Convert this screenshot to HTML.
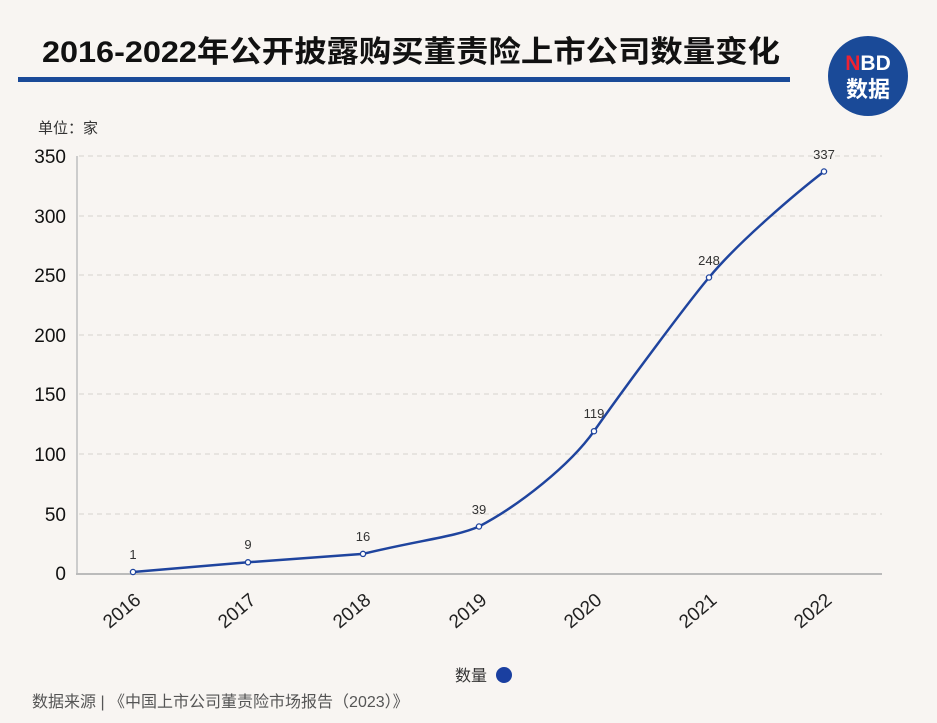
<!DOCTYPE html>
<html><head><meta charset="utf-8"><style>
body{margin:0;width:937px;height:723px;background:#f8f5f2;overflow:hidden;font-family:"Liberation Sans","Noto Sans CJK SC",sans-serif}
</style></head><body>
<svg width="937" height="723" xmlns="http://www.w3.org/2000/svg" style="position:absolute;left:0;top:0">
<text x="42" y="62" font-size="30" font-weight="bold" fill="#111" font-family="Liberation Sans,Noto Sans CJK SC,sans-serif" textLength="738" lengthAdjust="spacingAndGlyphs">2016-2022年公开披露购买董责险上市公司数量变化</text>
<rect x="18" y="77" width="772" height="5" fill="#1a4a98"/>
<circle cx="868" cy="76" r="40" fill="#1a4a98"/>
<text x="868" y="70" font-size="21" font-weight="bold" fill="#fff" text-anchor="middle"><tspan fill="#e23">N</tspan>BD</text>
<text x="868" y="97" font-size="22" font-weight="bold" fill="#fff" text-anchor="middle" font-family="Noto Sans CJK SC,sans-serif">数据</text>
<text x="38" y="133" font-size="15" fill="#333" font-family="Liberation Sans,Noto Sans CJK SC,sans-serif">单位：家</text>
<g stroke="#d6d3cf" stroke-dasharray="5,4" stroke-width="1">
<line x1="79" x2="882" y1="156" y2="156"/><line x1="79" x2="882" y1="216" y2="216"/>
<line x1="79" x2="882" y1="275" y2="275"/><line x1="79" x2="882" y1="335" y2="335"/>
<line x1="79" x2="882" y1="394" y2="394"/><line x1="79" x2="882" y1="454" y2="454"/>
<line x1="79" x2="882" y1="514" y2="514"/></g>
<line x1="77" y1="156" x2="77" y2="574" stroke="#ccc" stroke-width="2"/>
<line x1="76" y1="574" x2="882" y2="574" stroke="#bbb" stroke-width="2"/>
<g font-size="19" fill="#111" text-anchor="end">
<text x="66" y="163">350</text><text x="66" y="223">300</text><text x="66" y="282">250</text>
<text x="66" y="342">200</text><text x="66" y="401">150</text><text x="66" y="461">100</text>
<text x="66" y="521">50</text><text x="66" y="580">0</text></g>
<path d="M133,572 L248,562.3 L363,553.9 C420,540 455,537 479,526.5 C520,505 570,465 594,431.2 C630,380 690,300 709,277.5 C740,240 800,190 824,171.5" fill="none" stroke="#1f449e" stroke-width="2.5"/>
<g fill="#fff" stroke="#1f449e" stroke-width="1.3">
<circle cx="133" cy="572" r="2.6"/><circle cx="248" cy="562.3" r="2.6"/><circle cx="363" cy="553.9" r="2.6"/>
<circle cx="479" cy="526.5" r="2.6"/><circle cx="594" cy="431.2" r="2.6"/><circle cx="709" cy="277.5" r="2.6"/><circle cx="824" cy="171.5" r="2.6"/></g>
<g font-size="13" fill="#333" text-anchor="middle">
<text x="133" y="559">1</text><text x="248" y="549">9</text><text x="363" y="541">16</text>
<text x="479" y="514">39</text><text x="594" y="418">119</text><text x="709" y="265">248</text><text x="824" y="159">337</text></g>
<g font-size="19" fill="#222" text-anchor="end">
<text transform="translate(142,602) rotate(-40)">2016</text>
<text transform="translate(257,602) rotate(-40)">2017</text>
<text transform="translate(372,602) rotate(-40)">2018</text>
<text transform="translate(488,602) rotate(-40)">2019</text>
<text transform="translate(603,602) rotate(-40)">2020</text>
<text transform="translate(718,602) rotate(-40)">2021</text>
<text transform="translate(833,602) rotate(-40)">2022</text></g>
<text x="455" y="681" font-size="16" fill="#333" font-family="Noto Sans CJK SC,sans-serif">数量</text>
<circle cx="504" cy="675" r="8" fill="#1a3fa0"/>
<text x="32" y="707" font-size="16" fill="#555" font-family="Liberation Sans,Noto Sans CJK SC,sans-serif">数据来源 | 《中国上市公司董责险市场报告（2023）》</text>
</svg>
</body></html>
